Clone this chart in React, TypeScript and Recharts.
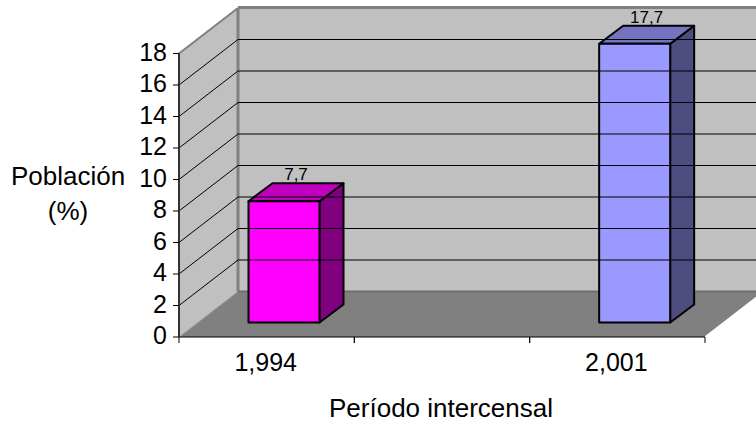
import React from "react"
import { BarChart, Bar, XAxis, YAxis, ReferenceArea, ReferenceLine, LabelList, Label } from "recharts"

const categories = ["1,994", "", "2,001"]
const poblacion = [7.7, null, 17.7]
const yTicks = [0, 2, 4, 6, 8, 10, 12, 14, 16, 18]
const frontColors = ["#ff00ff", "#ff00ff", "#9999ff"]
const topColors = ["#bf00bf", "#bf00bf", "#7373bf"]
const sideColors = ["#800080", "#800080", "#4d4d80"]

const data = categories.map((year, i) => ({ year, value: poblacion[i] }))

const FONT = "'Liberation Sans', Arial, sans-serif"
const WALL_DX = 59
const WALL_DY = -45.5
const BAR_DX = 24
const BAR_DY = -18
const BAR_SHIFT_X = 17.5
const BAR_SHIFT_Y = -14.5
const BAND = 175.33

function Walls({ x, y, width, height }: any) {
  const bottom = y + height
  const backX = x + WALL_DX
  const backTop = y + WALL_DY
  const backBottom = bottom + WALL_DY
  const right = x + width
  return (
    <g>
      <polygon points={`${backX},${backTop} ${right + WALL_DX + 10},${backTop} ${right + WALL_DX + 10},${backBottom} ${backX},${backBottom}`} fill="#c0c0c0" />
      <polygon points={`${x},${y} ${backX},${backTop} ${backX},${backBottom} ${x},${bottom}`} fill="#c0c0c0" />
      <polygon points={`${x},${bottom} ${backX},${backBottom} ${right + WALL_DX},${backBottom} ${right},${bottom}`} fill="#808080" />
      <line x1={x} y1={y} x2={backX} y2={backTop} stroke="#808080" strokeWidth={2} />
      <line x1={backX} y1={backTop - 0.5} x2={right + WALL_DX + 10} y2={backTop - 0.5} stroke="#808080" strokeWidth={3} />
      <line x1={backX} y1={backTop} x2={backX} y2={backBottom} stroke="#808080" strokeWidth={3} />
      <line x1={backX} y1={backBottom} x2={right + WALL_DX + 10} y2={backBottom} stroke="#6e6e6e" strokeWidth={2} />
      <line x1={x} y1={bottom} x2={backX} y2={backBottom} stroke="#a0a0a0" strokeWidth={1} />
      <line x1={right} y1={bottom} x2={right + WALL_DX} y2={backBottom} stroke="#ffffff" strokeWidth={1.5} />
    </g>
  )
}

function WallLine(props: any) {
  const { x1, x2, y1 } = props
  return (
    <g>
      <line x1={x1} y1={y1} x2={x1 + WALL_DX} y2={y1 + WALL_DY} stroke="#000" strokeWidth={1} />
      <line x1={x1 + WALL_DX} y1={y1 + WALL_DY} x2={x2 + WALL_DX + 10} y2={y1 + WALL_DY} stroke="#000" strokeWidth={1} />
    </g>
  )
}

function Bar3D({ x, y, width, height, payload }: any) {
  const c = categories.indexOf(payload.year)
  const l = x + BAR_SHIFT_X
  const t = y + BAR_SHIFT_Y
  const r = l + width
  const b = t + height
  return (
    <g stroke="#000" strokeWidth={2} strokeLinejoin="round">
      <polygon points={`${r},${t} ${r + BAR_DX},${t + BAR_DY} ${r + BAR_DX},${b + BAR_DY} ${r},${b}`} fill={sideColors[c]} />
      <polygon points={`${l},${t} ${l + BAR_DX},${t + BAR_DY} ${r + BAR_DX},${t + BAR_DY} ${r},${t}`} fill={topColors[c]} />
      <rect x={l} y={t} width={width} height={height} fill={frontColors[c]} />
    </g>
  )
}

function BarValue({ x, y, width, value }: any) {
  if (value == null) return null
  return (
    <text x={x + width / 2 + BAR_SHIFT_X + 12} y={y + BAR_SHIFT_Y - 21} textAnchor="middle" fontFamily={FONT} fontSize={17} fill="#000">
      {String(value).replace(".", ",")}
    </text>
  )
}

function XTick({ x, y, payload }: any) {
  return (
    <g>
      <line x1={x - BAND / 2} y1={y - 8} x2={x - BAND / 2} y2={y - 2} stroke="#000" />
      <line x1={x + BAND / 2} y1={y - 8} x2={x + BAND / 2} y2={y - 2} stroke="#000" />
      <text x={x - 1} y={y + 26} textAnchor="middle" fontFamily={FONT} fontSize={25} fill="#000">
        {payload.value}
      </text>
    </g>
  )
}

function YTick({ x, y, payload }: any) {
  return (
    <text x={x} y={y + 7} textAnchor="end" fontFamily={FONT} fontSize={25} fill="#000">
      {payload.value}
    </text>
  )
}

function YTitle() {
  return (
    <text textAnchor="middle" fontFamily={FONT} fontSize={26} fill="#000">
      <tspan x={68} y={185}>Población</tspan>
      <tspan x={68} y={220}>(%)</tspan>
    </text>
  )
}

export default function App() {
  return (
    <div style={{ position: "absolute", left: 0, top: 0 }}>
      <BarChart
        width={756}
        height={423}
        data={data}
        barSize={71}
        margin={{ top: 53.5, right: 51, bottom: 0, left: 139 }}
      >
        <XAxis
          dataKey="year"
          interval={0}
          tickLine={false}
          axisLine={{ stroke: "#000" }}
          tick={<XTick />}
          height={86}
        >
          <Label position="insideBottom" offset={0} content={() => (
            <text x={441} y={417} textAnchor="middle" fontFamily={FONT} fontSize={26} fill="#000">Período intercensal</text>
          )} />
        </XAxis>
        <YAxis
          domain={[0, 18]}
          ticks={yTicks}
          interval={0}
          width={40}
          axisLine={{ stroke: "#333", strokeWidth: 2 }}
          tickLine={{ stroke: "#000" }}
          tickSize={6}
          tickMargin={6}
          tick={<YTick />}
        >
          <Label content={<YTitle />} />
        </YAxis>
        <ReferenceArea y1={0} y2={18} ifOverflow="visible" shape={<Walls />} />
        {yTicks.filter((t) => t > 0 && t < 18).map((t) => (
          <ReferenceLine key={t} y={t} ifOverflow="visible" shape={<WallLine />} />
        ))}
        <Bar dataKey="value" isAnimationActive={false} shape={<Bar3D />}>
          <LabelList dataKey="value" content={<BarValue />} />
        </Bar>
      </BarChart>
    </div>
  )
}
